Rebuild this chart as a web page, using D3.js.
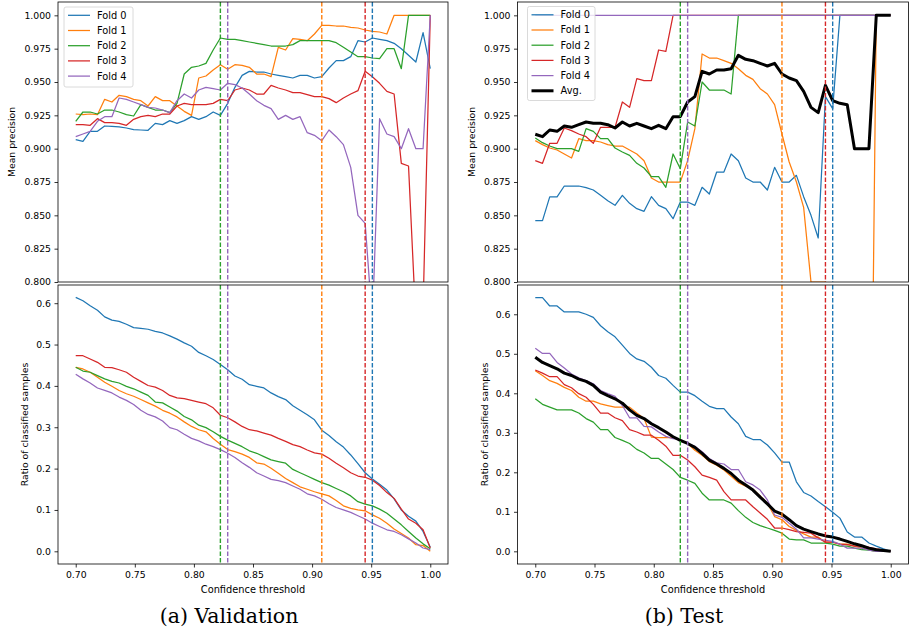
<!DOCTYPE html>
<html>
<head>
<meta charset="utf-8">
<script src="https://cdn.jsdelivr.net/npm/d3@7"></script>
<style>
  body { margin: 0; background: #fff; }
  text { font-family: "DejaVu Sans", sans-serif; }
</style>
</head>
<body>
<script>
// confidence thresholds (x axis, 50 steps from 0.70 to 1.00)
var thresholds = [0.7000, 0.7061, 0.7122, 0.7184, 0.7245, 0.7306, 0.7367, 0.7429, 0.7490, 0.7551,
  0.7612, 0.7673, 0.7735, 0.7796, 0.7857, 0.7918, 0.7980, 0.8041, 0.8102, 0.8163,
  0.8224, 0.8286, 0.8347, 0.8408, 0.8469, 0.8531, 0.8592, 0.8653, 0.8714, 0.8776,
  0.8837, 0.8898, 0.8959, 0.9020, 0.9082, 0.9143, 0.9204, 0.9265, 0.9327, 0.9388,
  0.9449, 0.9510, 0.9571, 0.9633, 0.9694, 0.9755, 0.9816, 0.9878, 0.9939, 1.0000];

var foldNames = ["Fold 0", "Fold 1", "Fold 2", "Fold 3", "Fold 4"];
var foldColors = ["#1f77b4", "#ff7f0e", "#2ca02c", "#d62728", "#9467bd"];
// chosen threshold per fold (dashed lines)
var chosenThresholds = [0.9510, 0.9082, 0.8224, 0.9449, 0.8286];

// (a) Validation - mean precision
var valPrecision = [
  [0.9068, 0.9055, 0.913, 0.913, 0.917, 0.9168, 0.9163, 0.9155, 0.9143, 0.914,
   0.9138, 0.919, 0.918, 0.921, 0.919, 0.921, 0.924, 0.922, 0.924, 0.9275,
   0.925, 0.934, 0.946, 0.955, 0.958, 0.9575, 0.9575, 0.956, 0.955, 0.954,
   0.953, 0.955, 0.955, 0.953, 0.954, 0.9605, 0.966, 0.966, 0.969, 0.981,
   0.980, 0.983, 0.982, 0.981, 0.979, 0.975, 0.970, 0.965, 0.987, 0.960],
  [0.926, 0.9255, 0.926, 0.9255, 0.937, 0.935, 0.940, 0.939, 0.937, 0.936,
   0.932, 0.939, 0.936, 0.936, 0.932, 0.928, 0.925, 0.953, 0.9545, 0.959,
   0.963, 0.9595, 0.963, 0.9625, 0.961, 0.956, 0.956, 0.954, 0.976, 0.974,
   0.9825, 0.982, 0.981, 0.986, 0.9925, 0.9925, 0.992, 0.992, 0.991, 0.9905,
   0.989, 0.988, 0.9875, 0.986, 1.0, 1.0, 1.0, 1.0, 1.0, 1.0],
  [0.9205, 0.9275, 0.9275, 0.926, 0.929, 0.929, 0.9275, 0.9255, 0.9245, 0.933,
   0.931, 0.929, 0.929, 0.927, 0.934, 0.956, 0.961, 0.962, 0.964, 0.974,
   0.983, 0.982, 0.982, 0.981, 0.980, 0.979, 0.978, 0.977, 0.977, 0.977,
   0.978, 0.981, 0.981, 0.981, 0.981, 0.981, 0.9795, 0.976, 0.9725, 0.969,
   0.969, 0.968, 0.9675, 0.975, 0.975, 0.960, 1.0, 1.0, 1.0, 1.0],
  [0.918, 0.918, 0.9175, 0.9225, 0.9195, 0.9195, 0.919, 0.9175, 0.922, 0.924,
   0.925, 0.924, 0.926, 0.926, 0.932, 0.934, 0.933, 0.933, 0.933, 0.934,
   0.937, 0.936, 0.944, 0.9455, 0.944, 0.941, 0.941, 0.9475, 0.9455, 0.944,
   0.942, 0.942, 0.9405, 0.939, 0.939, 0.9375, 0.9345, 0.938, 0.941, 0.9435,
   0.958, 0.954, 0.949, 0.943, 0.941, 0.889, 0.887, 0.77, 0.78, 1.0],
  [0.909, 0.911, 0.913, 0.9205, 0.924, 0.924, 0.938, 0.937, 0.935, 0.933,
   0.931, 0.9305, 0.929, 0.927, 0.936, 0.941, 0.938, 0.944, 0.946, 0.945,
   0.944, 0.949, 0.948, 0.9455, 0.941, 0.936, 0.9325, 0.930, 0.922, 0.925,
   0.922, 0.924, 0.912, 0.910, 0.906, 0.914, 0.909, 0.903, 0.886, 0.850,
   0.844, 0.77, 0.9225, 0.911, 0.909, 0.900, 0.915, 0.900, 0.900, 1.0]
];

// (a) Validation - ratio of classified samples
var valRatio = [
  [0.614, 0.606, 0.594, 0.583, 0.567, 0.559, 0.556, 0.549, 0.541, 0.539,
   0.537, 0.532, 0.528, 0.521, 0.513, 0.504, 0.496, 0.481, 0.473, 0.464,
   0.452, 0.439, 0.424, 0.416, 0.403, 0.399, 0.395, 0.383, 0.374, 0.367,
   0.352, 0.341, 0.330, 0.318, 0.293, 0.280, 0.265, 0.252, 0.233, 0.212,
   0.190, 0.175, 0.162, 0.148, 0.127, 0.100, 0.085, 0.073, 0.048, 0.010],
  [0.445, 0.441, 0.433, 0.421, 0.409, 0.399, 0.389, 0.381, 0.375, 0.367,
   0.359, 0.351, 0.341, 0.334, 0.325, 0.313, 0.302, 0.294, 0.289, 0.273,
   0.259, 0.246, 0.241, 0.235, 0.227, 0.214, 0.211, 0.201, 0.189, 0.176,
   0.166, 0.156, 0.150, 0.144, 0.139, 0.134, 0.123, 0.110, 0.104, 0.100,
   0.098, 0.088, 0.080, 0.068, 0.054, 0.043, 0.032, 0.016, 0.014, 0.0],
  [0.445, 0.436, 0.433, 0.425, 0.417, 0.411, 0.407, 0.399, 0.393, 0.385,
   0.377, 0.361, 0.359, 0.349, 0.339, 0.326, 0.318, 0.305, 0.299, 0.289,
   0.278, 0.269, 0.261, 0.253, 0.243, 0.237, 0.229, 0.221, 0.217, 0.213,
   0.198, 0.190, 0.182, 0.174, 0.166, 0.160, 0.152, 0.144, 0.134, 0.120,
   0.114, 0.110, 0.102, 0.092, 0.078, 0.064, 0.048, 0.032, 0.018, 0.006],
  [0.473, 0.473, 0.465, 0.457, 0.445, 0.444, 0.439, 0.433, 0.421, 0.411,
   0.401, 0.397, 0.389, 0.377, 0.371, 0.369, 0.365, 0.361, 0.357, 0.347,
   0.329, 0.323, 0.313, 0.302, 0.294, 0.291, 0.286, 0.281, 0.273, 0.266,
   0.258, 0.253, 0.245, 0.238, 0.235, 0.225, 0.213, 0.202, 0.190, 0.182,
   0.179, 0.172, 0.159, 0.142, 0.128, 0.102, 0.078, 0.068, 0.052, 0.008],
  [0.428, 0.417, 0.407, 0.395, 0.389, 0.383, 0.373, 0.365, 0.355, 0.341,
   0.331, 0.325, 0.315, 0.299, 0.294, 0.283, 0.273, 0.267, 0.259, 0.253,
   0.246, 0.237, 0.227, 0.214, 0.203, 0.190, 0.182, 0.174, 0.171, 0.166,
   0.158, 0.150, 0.139, 0.134, 0.126, 0.115, 0.106, 0.100, 0.094, 0.086,
   0.078, 0.068, 0.060, 0.052, 0.048, 0.040, 0.030, 0.020, 0.008, 0.004]
];

// (b) Test - mean precision
var testPrecision = [
  [0.846, 0.846, 0.8638, 0.8638, 0.872, 0.872, 0.872, 0.8708, 0.869, 0.865,
   0.861, 0.8575, 0.865, 0.859, 0.855, 0.853, 0.864, 0.8575, 0.855, 0.8475,
   0.860, 0.860, 0.8575, 0.871, 0.866, 0.8825, 0.8825, 0.896, 0.891, 0.878,
   0.875, 0.875, 0.869, 0.886, 0.875, 0.875, 0.880, 0.864, 0.850, 0.833,
   0.939, 0.930, 1.0, 1.0, 1.0, 1.0, 1.0, 1.0, 1.0, 1.0],
  [0.906, 0.903, 0.9005, 0.899, 0.896, 0.893, 0.9075, 0.906, 0.906, 0.905,
   0.903, 0.902, 0.902, 0.899, 0.896, 0.891, 0.878, 0.875, 0.875, 0.875,
   0.875, 0.891, 0.915, 0.971, 0.968, 0.968, 0.966, 0.964, 0.960, 0.955,
   0.952, 0.945, 0.941, 0.933, 0.911, 0.890, 0.875, 0.856, 0.8, 0.8,
   0.8, 0.75, 0.665, 0.665, 0.5, 0.5, 0.5, 1.0, 1.0, 1.0],
  [0.908, 0.9045, 0.902, 0.900, 0.900, 0.900, 0.898, 0.915, 0.913, 0.9075,
   0.9075, 0.9005, 0.8975, 0.895, 0.889, 0.8855, 0.879, 0.879, 0.871, 0.896,
   0.885, 0.920, 0.917, 0.950, 0.944, 0.944, 0.944, 0.941, 1.0, 1.0,
   1.0, 1.0, 1.0, 1.0, 1.0, 1.0, 1.0, 1.0, 1.0, 1.0,
   1.0, 1.0, 1.0, 1.0, 1.0, 1.0, 1.0, 1.0, 1.0, 1.0],
  [0.891, 0.889, 0.904, 0.904, 0.9155, 0.9135, 0.911, 0.909, 0.904, 0.916,
   0.916, 0.916, 0.935, 0.931, 0.9525, 0.951, 0.951, 0.974, 0.973, 1.0,
   1.0, 1.0, 1.0, 1.0, 1.0, 1.0, 1.0, 1.0, 1.0, 1.0,
   1.0, 1.0, 1.0, 1.0, 1.0, 1.0, 1.0, 1.0, 1.0, 1.0,
   1.0, 1.0, 1.0, 1.0, 1.0, 1.0, 1.0, 1.0, 1.0, 1.0],
  [1.0, 1.0, 1.0, 1.0, 1.0, 1.0, 1.0, 1.0, 1.0, 1.0,
   1.0, 1.0, 1.0, 1.0, 1.0, 1.0, 1.0, 1.0, 1.0, 1.0,
   1.0, 1.0, 1.0, 1.0, 1.0, 1.0, 1.0, 1.0, 1.0, 1.0,
   1.0, 1.0, 1.0, 1.0, 1.0, 1.0, 1.0, 1.0, 1.0, 1.0,
   1.0, 1.0, 1.0, 1.0, 1.0, 1.0, 1.0, 1.0, 1.0, 1.0]
];
var testPrecisionAvg = [0.9108, 0.909, 0.914, 0.913, 0.917, 0.916, 0.918, 0.920, 0.919, 0.919,
  0.918, 0.9155, 0.920, 0.917, 0.919, 0.917, 0.915, 0.9175, 0.915, 0.924,
  0.924, 0.935, 0.939, 0.958, 0.956, 0.959, 0.959, 0.960, 0.970, 0.967,
  0.966, 0.964, 0.962, 0.964, 0.956, 0.953, 0.951, 0.943, 0.931, 0.927,
  0.9475, 0.936, 0.934, 0.933, 0.900, 0.900, 0.900, 1.0, 1.0, 1.0];

// (b) Test - ratio of classified samples
var testRatio = [
  [0.642, 0.642, 0.621, 0.621, 0.606, 0.606, 0.606, 0.600, 0.592, 0.571,
   0.556, 0.543, 0.522, 0.501, 0.487, 0.481, 0.466, 0.445, 0.438, 0.420,
   0.403, 0.403, 0.394, 0.380, 0.367, 0.361, 0.361, 0.340, 0.323, 0.291,
   0.283, 0.283, 0.269, 0.249, 0.226, 0.226, 0.176, 0.149, 0.140, 0.126,
   0.113, 0.099, 0.084, 0.049, 0.036, 0.036, 0.021, 0.013, 0.006, 0.0],
  [0.457, 0.445, 0.432, 0.425, 0.415, 0.407, 0.390, 0.380, 0.380, 0.373,
   0.369, 0.365, 0.365, 0.365, 0.350, 0.336, 0.289, 0.288, 0.288, 0.288,
   0.281, 0.273, 0.256, 0.243, 0.227, 0.218, 0.206, 0.190, 0.174, 0.165,
   0.157, 0.140, 0.122, 0.088, 0.080, 0.063, 0.053, 0.044, 0.036, 0.036,
   0.023, 0.023, 0.018, 0.018, 0.013, 0.008, 0.004, 0.0, 0.0, 0.0],
  [0.386, 0.372, 0.365, 0.358, 0.358, 0.358, 0.350, 0.336, 0.327, 0.308,
   0.308, 0.288, 0.281, 0.273, 0.258, 0.249, 0.235, 0.235, 0.221, 0.207,
   0.187, 0.180, 0.172, 0.147, 0.130, 0.130, 0.130, 0.122, 0.103, 0.086,
   0.073, 0.065, 0.059, 0.053, 0.046, 0.031, 0.029, 0.029, 0.021, 0.021,
   0.021, 0.018, 0.013, 0.013, 0.008, 0.004, 0.003, 0.0, 0.0, 0.0],
  [0.459, 0.451, 0.442, 0.442, 0.422, 0.414, 0.399, 0.390, 0.372, 0.350,
   0.350, 0.338, 0.331, 0.308, 0.302, 0.294, 0.294, 0.281, 0.266, 0.243,
   0.243, 0.231, 0.214, 0.193, 0.187, 0.180, 0.151, 0.130, 0.130, 0.130,
   0.113, 0.097, 0.081, 0.059, 0.059, 0.055, 0.050, 0.048, 0.046, 0.034,
   0.023, 0.023, 0.018, 0.017, 0.013, 0.013, 0.010, 0.006, 0.003, 0.0],
  [0.514, 0.501, 0.501, 0.478, 0.464, 0.449, 0.439, 0.432, 0.424, 0.407,
   0.399, 0.392, 0.369, 0.338, 0.338, 0.316, 0.315, 0.302, 0.291, 0.285,
   0.283, 0.273, 0.266, 0.252, 0.235, 0.224, 0.221, 0.207, 0.207, 0.176,
   0.168, 0.155, 0.130, 0.092, 0.086, 0.071, 0.056, 0.034, 0.034, 0.031,
   0.028, 0.025, 0.018, 0.008, 0.008, 0.008, 0.003, 0.0, 0.0, 0.0]
];
var testRatioAvg = [0.491, 0.478, 0.470, 0.462, 0.451, 0.445, 0.436, 0.430, 0.420, 0.403,
  0.394, 0.386, 0.375, 0.358, 0.344, 0.336, 0.323, 0.313, 0.302, 0.290,
  0.281, 0.273, 0.263, 0.248, 0.231, 0.221, 0.210, 0.197, 0.180, 0.168,
  0.155, 0.137, 0.120, 0.102, 0.094, 0.080, 0.065, 0.056, 0.050, 0.044,
  0.039, 0.036, 0.031, 0.025, 0.019, 0.014, 0.008, 0.004, 0.002, 0.0];

var precisionTicks = [0.800, 0.825, 0.850, 0.875, 0.900, 0.925, 0.950, 0.975, 1.000];
var ratioTicks = [0.0, 0.1, 0.2, 0.3, 0.4, 0.5, 0.6];
var xTicks = [0.70, 0.75, 0.80, 0.85, 0.90, 0.95, 1.00];

var W = 913, H = 633;
var svg = d3.select("body").append("svg")
  .attr("width", W)
  .attr("height", H);

var fontSize = "9.3px";
var labelSize = "9.8px";

var xLeft = d3.scaleLinear().domain([0.685, 1.015]).range([58, 448]);
var xRight = d3.scaleLinear().domain([0.685, 1.015]).range([517.5, 908.5]);

var topY = [2, 282], botY = [285, 564];

var panels = [
  { id: "p0", x: xLeft, y: d3.scaleLinear().domain([0.8, 1.01]).range([topY[1], topY[0]]),
    series: valPrecision, avg: null, ticks: precisionTicks, fmt: d3.format(".3f"),
    ylabel: "Mean precision", ylabelX: 12, xaxis: false, legend: { x: 64, y: 7, w: 69, h: 80 } },
  { id: "p1", x: xLeft, y: d3.scaleLinear().domain([-0.0307, 0.644]).range([botY[1], botY[0]]),
    series: valRatio, avg: null, ticks: ratioTicks, fmt: d3.format(".1f"),
    ylabel: "Ratio of classified samples", ylabelX: 25, xaxis: true },
  { id: "p2", x: xRight, y: d3.scaleLinear().domain([0.8, 1.01]).range([topY[1], topY[0]]),
    series: testPrecision, avg: testPrecisionAvg, ticks: precisionTicks, fmt: d3.format(".3f"),
    ylabel: "Mean precision", ylabelX: 472, xaxis: false, legend: { x: 527.5, y: 6.5, w: 67.5, h: 94 } },
  { id: "p3", x: xRight, y: d3.scaleLinear().domain([-0.0321, 0.6741]).range([botY[1], botY[0]]),
    series: testRatio, avg: testRatioAvg, ticks: ratioTicks, fmt: d3.format(".1f"),
    ylabel: "Ratio of classified samples", ylabelX: 485, xaxis: true }
];

panels.forEach(function (p) {
  var x0 = p.x.range()[0], x1 = p.x.range()[1];
  var y0 = p.y.range()[1], y1 = p.y.range()[0];
  var g = svg.append("g");

  g.append("clipPath").attr("id", "clip-" + p.id)
    .append("rect").attr("x", x0).attr("y", y0).attr("width", x1 - x0).attr("height", y1 - y0);

  var plot = g.append("g").attr("clip-path", "url(#clip-" + p.id + ")");

  var line = d3.line()
    .x(function (d, i) { return p.x(thresholds[i]); })
    .y(function (d) { return p.y(d); });

  // fold curves
  plot.selectAll("path.fold")
    .data(p.series)
    .enter()
    .append("path")
    .attr("class", "fold")
    .attr("d", line)
    .attr("fill", "none")
    .attr("stroke", function (d, i) { return foldColors[i]; })
    .attr("stroke-width", 1.25)
    .attr("stroke-linejoin", "round");

  // average curve
  if (p.avg) {
    plot.append("path")
      .attr("d", line(p.avg))
      .attr("fill", "none")
      .attr("stroke", "#000")
      .attr("stroke-width", 3)
      .attr("stroke-linejoin", "round");
  }

  // chosen thresholds
  plot.selectAll("line.thr")
    .data(chosenThresholds)
    .enter()
    .append("line")
    .attr("x1", function (d) { return p.x(d); })
    .attr("x2", function (d) { return p.x(d); })
    .attr("y1", y0)
    .attr("y2", y1)
    .attr("stroke", function (d, i) { return foldColors[i]; })
    .attr("stroke-width", 1.4)
    .attr("stroke-dasharray", "4.5,2");

  // y axis
  var yAxis = d3.axisLeft(p.y).tickValues(p.ticks).tickFormat(p.fmt)
    .tickSize(3.5).tickPadding(3.5);
  var ya = g.append("g").attr("transform", "translate(" + x0 + ",0)").call(yAxis);
  ya.select(".domain").remove();
  ya.selectAll("text").style("font-size", fontSize).attr("fill", "#000");
  ya.selectAll("line").attr("stroke", "#000").attr("stroke-width", 0.8);

  if (p.xaxis) {
    var xAxis = d3.axisBottom(p.x).tickValues(xTicks).tickFormat(d3.format(".2f"))
      .tickSize(3.5).tickPadding(3.5);
    var xa = g.append("g").attr("transform", "translate(0," + y1 + ")").call(xAxis);
    xa.select(".domain").remove();
    xa.selectAll("text").style("font-size", fontSize).attr("fill", "#000");
    xa.selectAll("line").attr("stroke", "#000").attr("stroke-width", 0.8);

    g.append("text")
      .attr("x", (x0 + x1) / 2)
      .attr("y", y1 + 29)
      .attr("text-anchor", "middle")
      .style("font-size", labelSize)
      .text("Confidence threshold");
  }

  // frame
  g.append("rect")
    .attr("x", x0).attr("y", y0)
    .attr("width", x1 - x0).attr("height", y1 - y0)
    .attr("fill", "none")
    .attr("stroke", "#000")
    .attr("stroke-width", 0.8);

  // y label
  g.append("text")
    .attr("transform", "translate(" + p.ylabelX + "," + ((y0 + y1) / 2) + ") rotate(-90)")
    .attr("text-anchor", "middle")
    .attr("dy", "0.35em")
    .style("font-size", fontSize)
    .text(p.ylabel);

  // legend
  if (p.legend) {
    var L = p.legend;
    var items = foldNames.map(function (n, i) { return { name: n, color: foldColors[i], w: 1.25 }; });
    if (p.avg) items.push({ name: "Avg.", color: "#000", w: 3 });
    var lg = g.append("g");
    lg.append("rect")
      .attr("x", L.x).attr("y", L.y).attr("width", L.w).attr("height", L.h)
      .attr("rx", 2)
      .attr("fill", "rgba(255,255,255,0.8)")
      .attr("stroke", "#d0d0d0")
      .attr("stroke-width", 0.8);
    var row = lg.selectAll("g.item").data(items).enter().append("g")
      .attr("transform", function (d, i) { return "translate(" + L.x + "," + (L.y + 8.3 + i * 15.2) + ")"; });
    row.append("line")
      .attr("x1", 4).attr("x2", 26)
      .attr("stroke", function (d) { return d.color; })
      .attr("stroke-width", function (d) { return d.w; });
    row.append("text")
      .attr("x", 33)
      .attr("dy", "0.35em")
      .style("font-size", labelSize)
      .text(function (d) { return d.name; });
  }
});

// sub-captions
svg.append("text")
  .attr("x", 229).attr("y", 623)
  .attr("text-anchor", "middle")
  .style("font-family", "'DejaVu Serif', serif")
  .style("font-size", "20.5px")
  .text("(a) Validation");

svg.append("text")
  .attr("x", 684).attr("y", 623)
  .attr("text-anchor", "middle")
  .style("font-family", "'DejaVu Serif', serif")
  .style("font-size", "20.5px")
  .text("(b) Test");
</script>
</body>
</html>
